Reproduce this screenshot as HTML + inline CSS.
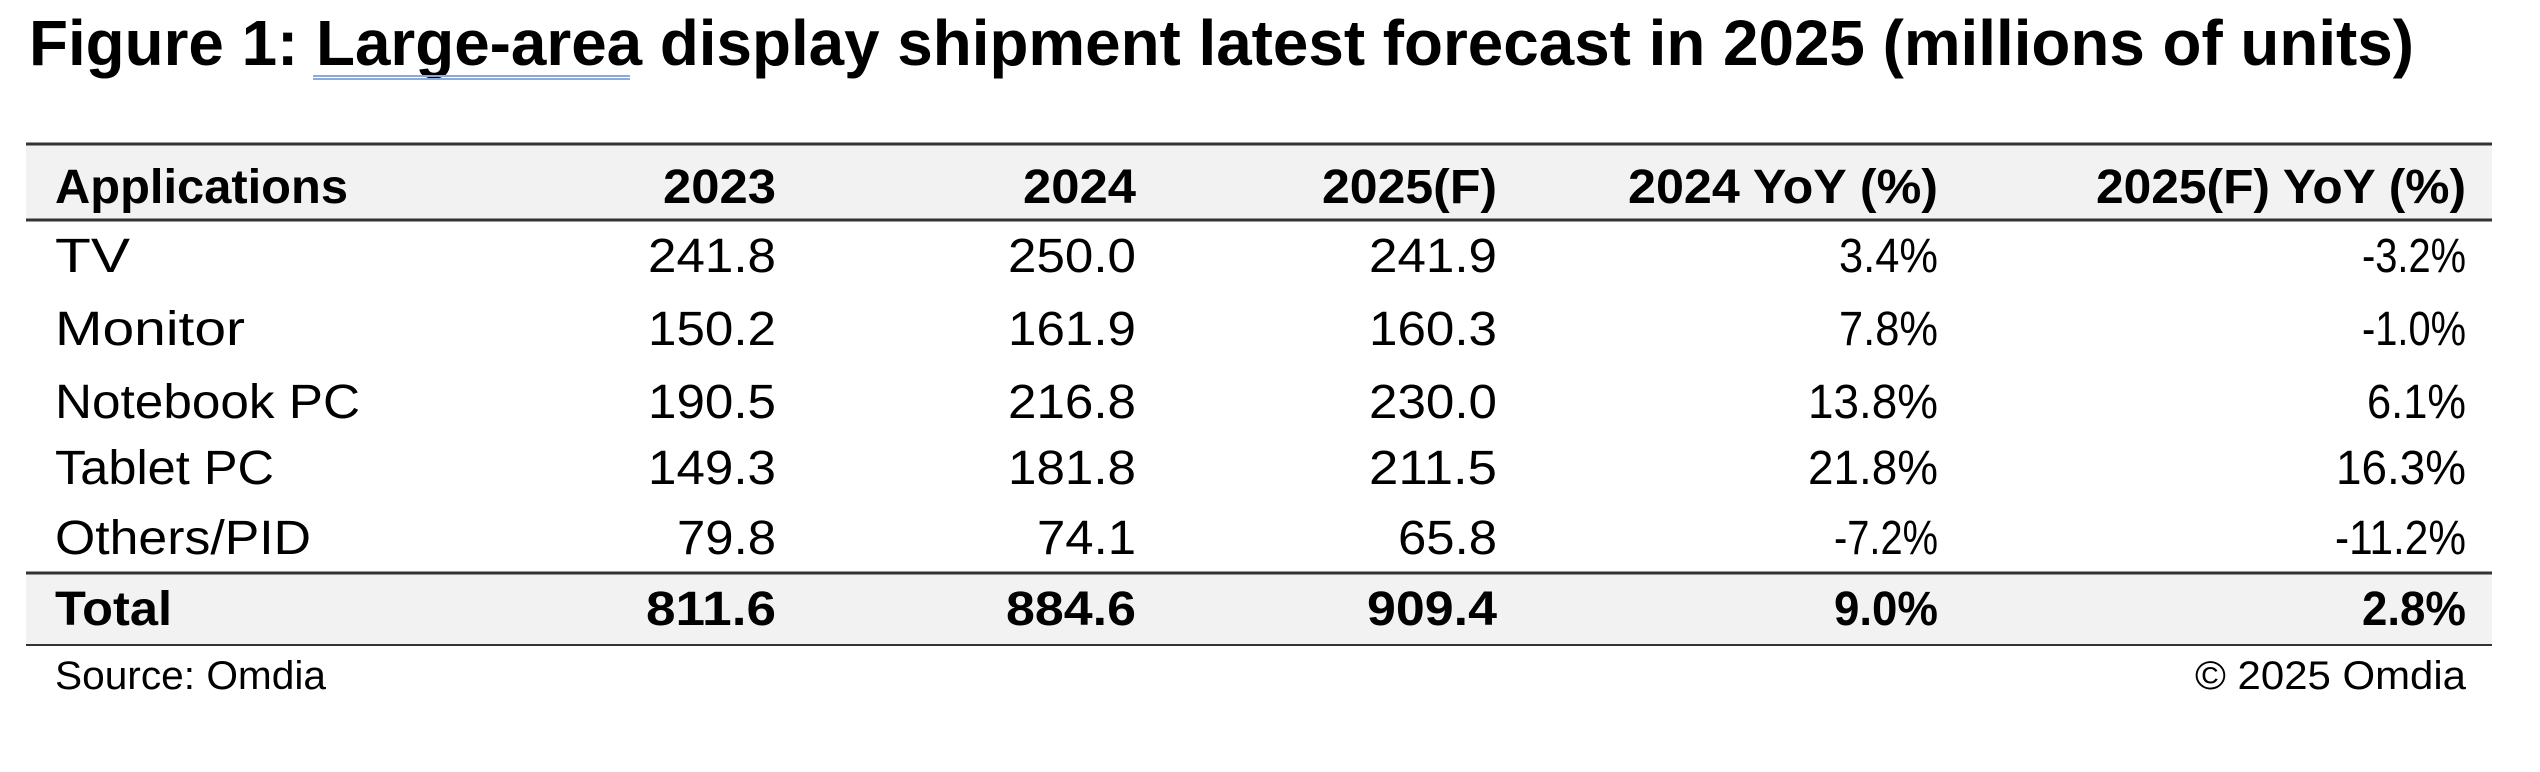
<!DOCTYPE html>
<html><head><meta charset="utf-8"><style>
html,body{margin:0;padding:0;background:#fff;}
svg{display:block;}
text{font-family:"Liberation Sans",sans-serif;fill:#000;}
.b{font-weight:bold;}
</style></head><body>
<svg width="2540" height="772" viewBox="0 0 2540 772" xmlns="http://www.w3.org/2000/svg">
<text x="29" y="65" class="b" font-size="64" textLength="2385" lengthAdjust="spacingAndGlyphs">Figure 1: Large-area display shipment latest forecast in 2025 (millions of units)</text>
<line x1="313" y1="76" x2="630" y2="76" stroke="#8eaadb" stroke-width="2"/>
<line x1="313" y1="79" x2="630" y2="79" stroke="#8eaadb" stroke-width="2"/>
<rect x="26" y="144" width="2466" height="76" fill="#f2f2f2"/>
<rect x="26" y="573" width="2466" height="72" fill="#f2f2f2"/>
<line x1="26" y1="144" x2="2492" y2="144" stroke="#333" stroke-width="3"/>
<line x1="26" y1="220" x2="2492" y2="220" stroke="#333" stroke-width="3"/>
<line x1="26" y1="573" x2="2492" y2="573" stroke="#333" stroke-width="3"/>
<line x1="26" y1="645" x2="2492" y2="645" stroke="#333" stroke-width="2"/>
<g font-size="48">
<text x="55" y="203" class="b" textLength="293" lengthAdjust="spacingAndGlyphs">Applications</text>
<text x="776" y="203" class="b" text-anchor="end" textLength="113" lengthAdjust="spacingAndGlyphs">2023</text>
<text x="1136" y="203" class="b" text-anchor="end" textLength="113" lengthAdjust="spacingAndGlyphs">2024</text>
<text x="1497" y="203" class="b" text-anchor="end" textLength="175" lengthAdjust="spacingAndGlyphs">2025(F)</text>
<text x="1938" y="203" class="b" text-anchor="end" textLength="310" lengthAdjust="spacingAndGlyphs">2024 YoY (%)</text>
<text x="2466" y="203" class="b" text-anchor="end" textLength="370" lengthAdjust="spacingAndGlyphs">2025(F) YoY (%)</text>

<text x="55" y="272" textLength="75" lengthAdjust="spacingAndGlyphs">TV</text>
<text x="55" y="345" textLength="190" lengthAdjust="spacingAndGlyphs">Monitor</text>
<text x="55" y="418" textLength="305" lengthAdjust="spacingAndGlyphs">Notebook PC</text>
<text x="55" y="484" textLength="219" lengthAdjust="spacingAndGlyphs">Tablet PC</text>
<text x="55" y="554" textLength="256" lengthAdjust="spacingAndGlyphs">Others/PID</text>
<text x="55" y="625" class="b" textLength="117" lengthAdjust="spacingAndGlyphs">Total</text>
</g>
<g font-size="48" text-anchor="end">
<text x="776" y="272" textLength="128" lengthAdjust="spacingAndGlyphs">241.8</text>
<text x="1136" y="272" textLength="128" lengthAdjust="spacingAndGlyphs">250.0</text>
<text x="1497" y="272" textLength="128" lengthAdjust="spacingAndGlyphs">241.9</text>
<text x="1938" y="272" textLength="99" lengthAdjust="spacingAndGlyphs">3.4%</text>
<text x="2466" y="272" textLength="104" lengthAdjust="spacingAndGlyphs">-3.2%</text>

<text x="776" y="345" textLength="128" lengthAdjust="spacingAndGlyphs">150.2</text>
<text x="1136" y="345" textLength="128" lengthAdjust="spacingAndGlyphs">161.9</text>
<text x="1497" y="345" textLength="128" lengthAdjust="spacingAndGlyphs">160.3</text>
<text x="1938" y="345" textLength="99" lengthAdjust="spacingAndGlyphs">7.8%</text>
<text x="2466" y="345" textLength="104" lengthAdjust="spacingAndGlyphs">-1.0%</text>

<text x="776" y="418" textLength="128" lengthAdjust="spacingAndGlyphs">190.5</text>
<text x="1136" y="418" textLength="128" lengthAdjust="spacingAndGlyphs">216.8</text>
<text x="1497" y="418" textLength="128" lengthAdjust="spacingAndGlyphs">230.0</text>
<text x="1938" y="418" textLength="130" lengthAdjust="spacingAndGlyphs">13.8%</text>
<text x="2466" y="418" textLength="99" lengthAdjust="spacingAndGlyphs">6.1%</text>

<text x="776" y="484" textLength="128" lengthAdjust="spacingAndGlyphs">149.3</text>
<text x="1136" y="484" textLength="128" lengthAdjust="spacingAndGlyphs">181.8</text>
<text x="1497" y="484" textLength="128" lengthAdjust="spacingAndGlyphs">211.5</text>
<text x="1938" y="484" textLength="130" lengthAdjust="spacingAndGlyphs">21.8%</text>
<text x="2466" y="484" textLength="130" lengthAdjust="spacingAndGlyphs">16.3%</text>

<text x="776" y="554" textLength="99" lengthAdjust="spacingAndGlyphs">79.8</text>
<text x="1136" y="554" textLength="99" lengthAdjust="spacingAndGlyphs">74.1</text>
<text x="1497" y="554" textLength="99" lengthAdjust="spacingAndGlyphs">65.8</text>
<text x="1938" y="554" textLength="104" lengthAdjust="spacingAndGlyphs">-7.2%</text>
<text x="2466" y="554" textLength="131" lengthAdjust="spacingAndGlyphs">-11.2%</text>

<text x="776" y="625" class="b" textLength="130" lengthAdjust="spacingAndGlyphs">811.6</text>
<text x="1136" y="625" class="b" textLength="130" lengthAdjust="spacingAndGlyphs">884.6</text>
<text x="1497" y="625" class="b" textLength="130" lengthAdjust="spacingAndGlyphs">909.4</text>
<text x="1938" y="625" class="b" textLength="104" lengthAdjust="spacingAndGlyphs">9.0%</text>
<text x="2466" y="625" class="b" textLength="104" lengthAdjust="spacingAndGlyphs">2.8%</text>
</g>
<text x="55" y="689" font-size="40" textLength="271" lengthAdjust="spacingAndGlyphs">Source: Omdia</text>
<text x="2466" y="689" font-size="40" text-anchor="end" textLength="271" lengthAdjust="spacingAndGlyphs">© 2025 Omdia</text>
</svg>
</body></html>
